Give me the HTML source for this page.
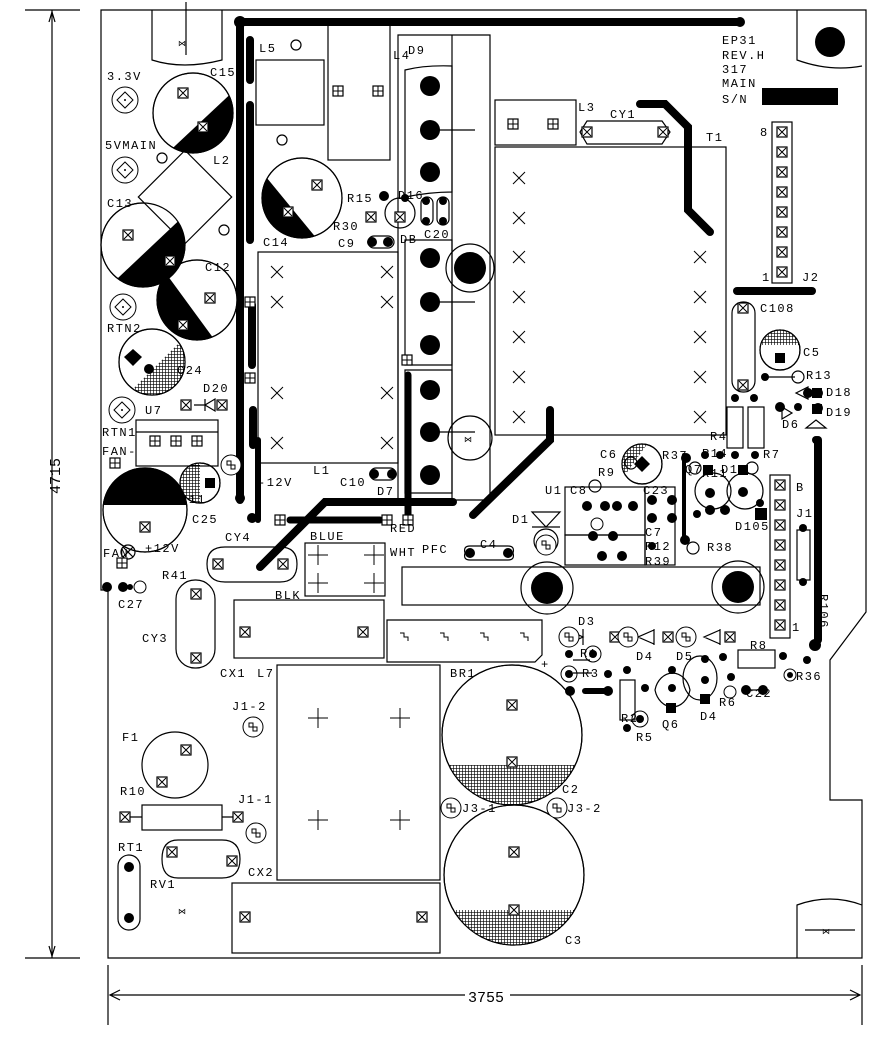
<!DOCTYPE html>
<html><head><meta charset="utf-8"><style>
html,body{margin:0;padding:0;background:#fff;}
svg{display:block}
text{font-family:"Liberation Mono","DejaVu Sans Mono",monospace;font-size:12px;fill:#000;letter-spacing:1.5px}
</style></head><body>
<svg width="882" height="1040" viewBox="0 0 882 1040" xmlns="http://www.w3.org/2000/svg">
<defs>
<g id="px"><rect x="-5" y="-5" width="10" height="10" fill="#fff" stroke="#000" stroke-width="1.2"/><path d="M-4 -4L4 4M4 -4L-4 4" stroke="#000" stroke-width="1"/></g>
<g id="pp"><rect x="-5" y="-5" width="10" height="10" fill="#fff" stroke="#000" stroke-width="1.2"/><path d="M0 -5V5M-5 0H5" stroke="#000" stroke-width="1"/></g>
<g id="xm"><path d="M-6 -6L6 6M6 -6L-6 6" stroke="#000" stroke-width="1"/></g>
<g id="pl"><path d="M-10 0H10M0 -10V10" stroke="#000" stroke-width="1"/></g>
<g id="hole"><circle r="10" fill="#000"/></g>
<g id="tgt"><circle r="13" fill="#fff" stroke="#000"/><path d="M0 -8L8 0 0 8-8 0Z" fill="none" stroke="#000"/><circle r="1" fill="#000"/></g>
<g id="so"><circle r="10" fill="#fff" stroke="#000"/><path d="M-4 -4h4v4h4v4h-4v-4h-4z" fill="none" stroke="#000"/></g>
<pattern id="hat" width="3" height="3" patternUnits="userSpaceOnUse"><rect width="3" height="3" fill="#fff"/><path d="M0 0H3M0 0V3" stroke="#000" stroke-width="1.3"/></pattern>
<clipPath id="k15"><circle cx="193" cy="113" r="40"/></clipPath>
<clipPath id="k13"><circle cx="143" cy="245" r="42"/></clipPath>
<clipPath id="k12"><circle cx="197" cy="300" r="40"/></clipPath>
<clipPath id="k14"><circle cx="302" cy="198" r="40"/></clipPath>
<clipPath id="k24"><circle cx="152" cy="362" r="33"/></clipPath>
<clipPath id="k11"><circle cx="145" cy="510" r="42"/></clipPath>
<clipPath id="k25"><circle cx="200" cy="483" r="20"/></clipPath>
<clipPath id="k2"><circle cx="512" cy="735" r="70"/></clipPath>
<clipPath id="k3"><circle cx="514" cy="875" r="70"/></clipPath>
<clipPath id="k5"><circle cx="780" cy="350" r="20"/></clipPath>
<clipPath id="k6"><circle cx="642" cy="464" r="20"/></clipPath>
</defs>
<g fill="none" stroke="#000" stroke-width="1.2">
<path d="M25 10H80M25 958H80M52 10V958"/>
<path d="M49 22L52 12 55 22M49 946L52 956 55 946"/>
<path d="M108 965V1025M862 965V1025M110 995H465M510 995H860M120 990L110 995 120 1000M850 990L860 995 850 1000"/>
<path d="M101 10H866V612L830 660V800H862V958H108V590H101Z"/>
<path d="M152 10V60Q183 70 222 60V10"/><path d="M186 2V55"/>
<path d="M797 10V60Q830 72 862 66"/>
<path d="M797 958V905Q830 893 862 905"/><path d="M805 930H855"/>
</g>
<text x="36" y="470" transform="rotate(-90 60 470)" style="font-size:15px;letter-spacing:0">4715</text>
<text x="468" y="1002" style="font-size:15px;letter-spacing:0">3755</text>
<text x="178" y="46" style="font-size:8px">⋈</text>
<text x="822" y="934" style="font-size:8px">⋈</text>
<circle cx="830" cy="42" r="15" fill="#000"/>

<g stroke="#000" stroke-width="8" stroke-linecap="round" fill="none">
<path d="M240 22H740"/><path d="M240 22V500"/>
<path d="M250 40V80M250 105V240"/>
<path d="M252 305V365M253 410V445"/>
<path d="M258 520V440" stroke-width="6"/>
<path d="M260 567L325 502H453"/>
<path d="M290 520H380" stroke-width="7"/>
<path d="M408 375V520" stroke-width="7"/>
<path d="M473 515L550 440V410"/>
<path d="M640 104H665L688 127V210L710 232"/>
<path d="M737 291H812"/>
<path d="M818 440V640"/>
<path d="M684 455V540" stroke-width="4"/>
<path d="M585 691H608" stroke-width="6"/>
</g>

<!-- caps -->
<g fill="#fff" stroke="#000" stroke-width="1.2">
<circle cx="193" cy="113" r="40"/>
<circle cx="143" cy="245" r="42"/>
<rect x="152" y="164" width="66" height="66" transform="rotate(45 185 197)"/>
<circle cx="197" cy="300" r="40"/>
<circle cx="152" cy="362" r="33"/>
<circle cx="145" cy="510" r="42"/>
<circle cx="200" cy="483" r="20"/>
<circle cx="302" cy="198" r="40"/>
<circle cx="512" cy="735" r="70"/><circle cx="514" cy="875" r="70"/>
<circle cx="780" cy="350" r="20"/><circle cx="642" cy="464" r="20"/>
</g>
<polygon points="160,160 240,85 240,170 160,170" fill="#000" clip-path="url(#k15)"/>
<polygon points="100,295 190,210 190,295" fill="#000" clip-path="url(#k13)"/>
<polygon points="150,268 162,268 222,350 150,350" fill="#000" clip-path="url(#k12)"/>
<polygon points="255,168 262,172 322,245 255,245" fill="#000" clip-path="url(#k14)"/>
<polygon points="192,330 122,400 192,400" fill="url(#hat)" clip-path="url(#k24)"/>
<rect x="100" y="460" width="90" height="45" fill="#000" clip-path="url(#k11)"/>
<rect x="178" y="460" width="22" height="50" fill="url(#hat)" clip-path="url(#k25)"/>
<rect x="440" y="765" width="150" height="50" fill="url(#hat)" clip-path="url(#k2)"/>
<rect x="440" y="910" width="150" height="40" fill="url(#hat)" clip-path="url(#k3)"/>
<rect x="758" y="328" width="44" height="17" fill="url(#hat)" clip-path="url(#k5)"/>
<polygon points="620,440 650,440 625,475 620,475" fill="url(#hat)" clip-path="url(#k6)"/>
<g fill="none" stroke="#000" stroke-width="1.2">
<circle cx="193" cy="113" r="40"/><circle cx="143" cy="245" r="42"/><circle cx="197" cy="300" r="40"/><circle cx="152" cy="362" r="33"/><circle cx="145" cy="510" r="42"/><circle cx="200" cy="483" r="20"/><circle cx="302" cy="198" r="40"/><circle cx="512" cy="735" r="70"/><circle cx="514" cy="875" r="70"/><circle cx="780" cy="350" r="20"/><circle cx="642" cy="464" r="20"/>
</g>
<rect x="205" y="478" width="10" height="10" fill="#000"/>
<path d="M133 349L142 357 133 366 124 357Z" fill="#000"/>
<circle cx="149" cy="369" r="5" fill="#000"/>
<use href="#px" x="183" y="93"/><use href="#px" x="203" y="127"/>
<use href="#px" x="128" y="235"/><use href="#px" x="170" y="261"/>
<use href="#px" x="210" y="298"/><use href="#px" x="183" y="325"/>
<use href="#px" x="145" y="527"/><use href="#px" x="317" y="185"/><use href="#px" x="288" y="212"/>
<use href="#tgt" x="125" y="100"/><use href="#tgt" x="125" y="170"/><use href="#tgt" x="123" y="307"/><use href="#tgt" x="122" y="410"/>
<g fill="none" stroke="#000" stroke-width="1.2">
<circle cx="162" cy="158" r="5"/><circle cx="224" cy="230" r="5"/><circle cx="282" cy="140" r="5"/><circle cx="296" cy="45" r="5"/>
<rect x="136" y="420" width="82" height="46"/><path d="M136 432H218"/>
<path d="M194 405H205M205 399V411M205 405L215 399V411Z"/>
<circle cx="128" cy="552" r="7"/><path d="M123 547L133 557M133 547L123 557"/>
</g>
<use href="#pp" x="155" y="441"/><use href="#pp" x="176" y="441"/><use href="#pp" x="197" y="441"/>
<use href="#px" x="186" y="405"/><use href="#px" x="222" y="405"/>
<use href="#pp" x="115" y="463"/><use href="#pp" x="122" y="563"/>
<use href="#so" x="231" y="465"/>

<!-- middle top -->
<g fill="none" stroke="#000" stroke-width="1.2">
<rect x="256" y="60" width="68" height="65"/>
<rect x="328" y="24" width="62" height="136"/>
<path d="M398 35H490V500H398Z M452 35V500"/>
<path d="M405 70Q425 65 452 66V192Q430 192 405 197Z"/>
<path d="M405 240H452V365H405Z M405 370H452V493H405Z"/>
<path d="M430 130H475M430 302H475M430 432H475"/>
<rect x="258" y="252" width="140" height="211"/>
<circle cx="470" cy="268" r="24"/>
<circle cx="470" cy="438" r="22"/>
<circle cx="400" cy="213" r="15"/>
<rect x="421" y="197" width="12" height="28" rx="6"/><rect x="437" y="197" width="12" height="28" rx="6"/>
<rect x="368" y="236" width="26" height="12" rx="6"/>
<rect x="370" y="468" width="26" height="12" rx="6"/>
<rect x="495" y="100" width="81" height="45"/>
<path d="M587 121H662L670 132 662 144H587L580 132Z"/>
<rect x="495" y="147" width="231" height="288"/>
<rect x="772" y="122" width="20" height="161"/>
<rect x="732" y="302" width="23" height="90" rx="11"/>
</g>
<use href="#pp" x="338" y="91"/><use href="#pp" x="378" y="91"/>
<use href="#hole" x="430" y="86"/><use href="#hole" x="430" y="130"/><use href="#hole" x="430" y="172"/>
<use href="#hole" x="430" y="258"/><use href="#hole" x="430" y="302"/><use href="#hole" x="430" y="345"/>
<use href="#hole" x="430" y="390"/><use href="#hole" x="430" y="432"/><use href="#hole" x="430" y="475"/>
<circle cx="470" cy="268" r="16" fill="#000"/>
<text x="464" y="442" style="font-size:8px">⋈</text>
<use href="#px" x="400" y="217"/><use href="#px" x="371" y="217"/>
<circle cx="384" cy="196" r="5" fill="#000"/><circle cx="405" cy="198" r="4" fill="#000"/>
<circle cx="426" cy="201" r="4" fill="#000"/><circle cx="426" cy="221" r="4" fill="#000"/><circle cx="443" cy="201" r="4" fill="#000"/><circle cx="443" cy="221" r="4" fill="#000"/>
<circle cx="372" cy="242" r="5" fill="#000"/><circle cx="388" cy="242" r="5" fill="#000"/>
<circle cx="374" cy="474" r="5" fill="#000"/><circle cx="392" cy="474" r="5" fill="#000"/>
<use href="#pp" x="407" y="360"/>
<use href="#pp" x="250" y="302"/><use href="#pp" x="250" y="378"/>
<use href="#xm" x="277" y="272"/><use href="#xm" x="387" y="272"/><use href="#xm" x="277" y="302"/><use href="#xm" x="387" y="302"/>
<use href="#xm" x="277" y="393"/><use href="#xm" x="387" y="393"/><use href="#xm" x="277" y="443"/><use href="#xm" x="387" y="443"/>
<use href="#pp" x="513" y="124"/><use href="#pp" x="553" y="124"/>
<use href="#px" x="587" y="132"/><use href="#px" x="663" y="132"/>
<g>
<use href="#xm" x="519" y="178"/><use href="#xm" x="519" y="218"/><use href="#xm" x="519" y="257"/><use href="#xm" x="519" y="297"/><use href="#xm" x="519" y="337"/><use href="#xm" x="519" y="377"/><use href="#xm" x="519" y="417"/>
<use href="#xm" x="700" y="257"/><use href="#xm" x="700" y="297"/><use href="#xm" x="700" y="337"/><use href="#xm" x="700" y="377"/><use href="#xm" x="700" y="417"/>
</g>
<use href="#px" x="782" y="132"/><use href="#px" x="782" y="152"/><use href="#px" x="782" y="172"/><use href="#px" x="782" y="192"/><use href="#px" x="782" y="212"/><use href="#px" x="782" y="232"/><use href="#px" x="782" y="252"/><use href="#px" x="782" y="272"/>
<use href="#px" x="743" y="308"/><use href="#px" x="743" y="385"/>
<rect x="775" y="353" width="10" height="10" fill="#000"/>
<rect x="762" y="88" width="76" height="17" fill="#000"/>
<circle cx="240" cy="22" r="6" fill="#000"/><circle cx="740" cy="22" r="5" fill="#000"/>
<circle cx="240" cy="498" r="5" fill="#000"/><circle cx="252" cy="518" r="5" fill="#000"/>

<!-- right small parts -->
<g fill="none" stroke="#000" stroke-width="1.2">
<rect x="727" y="407" width="16" height="41"/><rect x="748" y="407" width="16" height="41"/>
<path d="M765 377H795"/><circle cx="798" cy="377" r="6"/>
<path d="M796 393L808 387V399Z M792 413L782 407V419Z M806 428H826L816 420Z"/>
<rect x="770" y="475" width="20" height="163"/>
<rect x="797" y="530" width="13" height="50"/>
<circle cx="713" cy="491" r="18"/><circle cx="745" cy="491" r="18"/>
<circle cx="695" cy="468" r="6"/><circle cx="752" cy="468" r="6"/><circle cx="693" cy="548" r="6"/><circle cx="631" cy="463" r="6"/><circle cx="595" cy="486" r="6"/>
<rect x="565" y="487" width="80" height="48"/><rect x="565" y="535" width="80" height="30"/>
<rect x="645" y="487" width="30" height="78"/>
<rect x="402" y="567" width="358" height="38"/>
<circle cx="547" cy="588" r="26"/><circle cx="738" cy="587" r="26"/>
<path d="M465 553Q463 546 470 546H508Q515 546 513 553Q515 560 508 560H470Q463 560 465 553Z"/>
<circle cx="546" cy="541" r="12"/>
<path d="M532 512H560L546 527Z M532 527H560"/>
<path d="M207 564Q207 547 225 547H280Q297 547 297 564Q297 582 280 582H225Q207 582 207 564Z"/>
<rect x="305" y="543" width="80" height="53"/>
<rect x="176" y="580" width="39" height="88" rx="19"/>
<rect x="234" y="600" width="150" height="58"/>
<path d="M387 620H542V655L535 662H387Z"/>
<rect x="277" y="665" width="163" height="215"/>
<circle cx="175" cy="765" r="33"/>
<rect x="142" y="805" width="80" height="25"/><path d="M130 817H142M222 817H233"/>
<rect x="118" y="855" width="22" height="75" rx="11"/>
<path d="M178 840H222Q240 840 240 859Q240 878 222 878H178Q162 878 162 859Q162 840 178 840Z"/>
<rect x="232" y="883" width="208" height="70"/>
<path d="M583 637L568 630V644Z M583 629V645M638 637L654 630V644Z M654 629V645M704 637L720 630V644Z M720 629V645"/>
<path d="M655 690A18 22 0 0 1 690 690A18 22 0 0 1 655 690Z"/>
<ellipse cx="700" cy="678" rx="17" ry="22"/>
<rect x="620" y="680" width="15" height="40"/>
<rect x="738" y="650" width="37" height="18"/>
<path d="M744 690H760"/>
<path d="M573 660H590M573 673H592"/>
</g>
<use href="#px" x="512" y="705"/><use href="#px" x="512" y="762"/><use href="#px" x="514" y="852"/><use href="#px" x="514" y="910"/>
<path d="M642 456L650 464 642 472 634 464Z" fill="#000"/>
<circle cx="547" cy="588" r="16" fill="#000"/><circle cx="738" cy="587" r="16" fill="#000"/>
<g fill="#000">
<circle cx="587" cy="506" r="5"/><circle cx="605" cy="506" r="5"/><circle cx="617" cy="506" r="5"/><circle cx="633" cy="506" r="5"/>
<circle cx="593" cy="536" r="5"/><circle cx="613" cy="536" r="5"/><circle cx="602" cy="556" r="5"/><circle cx="622" cy="556" r="5"/>
<circle cx="652" cy="500" r="5"/><circle cx="672" cy="500" r="5"/><circle cx="652" cy="518" r="5"/><circle cx="672" cy="518" r="5"/><circle cx="652" cy="546" r="4"/>
<circle cx="686" cy="458" r="5"/><circle cx="685" cy="540" r="5"/>
<circle cx="710" cy="493" r="5"/><circle cx="743" cy="492" r="5"/><circle cx="710" cy="510" r="5"/><circle cx="725" cy="510" r="5"/>
<circle cx="697" cy="514" r="4"/><circle cx="760" cy="503" r="4"/>
<rect x="703" y="465" width="10" height="10"/><rect x="738" y="465" width="10" height="10"/><rect x="755" y="508" width="12" height="12"/>
<circle cx="705" cy="455" r="4"/><circle cx="720" cy="455" r="4"/><circle cx="735" cy="455" r="4"/><circle cx="755" cy="455" r="4"/>
<circle cx="735" cy="398" r="4"/><circle cx="754" cy="398" r="4"/>
<circle cx="765" cy="377" r="4"/><circle cx="808" cy="393" r="5"/><circle cx="780" cy="407" r="5"/><circle cx="798" cy="407" r="4"/><circle cx="818" cy="393" r="5"/><circle cx="818" cy="408" r="5"/><circle cx="816" cy="440" r="4"/><circle cx="815" cy="645" r="6"/>
<rect x="812" y="388" width="10" height="10"/><rect x="812" y="404" width="10" height="10"/>
<circle cx="803" cy="528" r="4"/><circle cx="803" cy="582" r="4"/>
<circle cx="569" cy="654" r="4"/><circle cx="608" cy="674" r="4"/><circle cx="570" cy="691" r="5"/><circle cx="608" cy="691" r="5"/>
<circle cx="627" cy="670" r="4"/><circle cx="627" cy="728" r="4"/><circle cx="645" cy="688" r="4"/>
<circle cx="672" cy="670" r="4"/><circle cx="672" cy="688" r="4"/><rect x="666" y="703" width="10" height="10"/>
<circle cx="705" cy="659" r="4"/><circle cx="705" cy="680" r="4"/><rect x="700" y="694" width="10" height="10"/>
<circle cx="723" cy="657" r="4"/><circle cx="731" cy="677" r="4"/>
<circle cx="746" cy="690" r="5"/><circle cx="763" cy="690" r="5"/><circle cx="783" cy="656" r="4"/><circle cx="807" cy="660" r="4"/>
<circle cx="470" cy="553" r="5"/><circle cx="508" cy="553" r="5"/>
<circle cx="107" cy="587" r="5"/><circle cx="123" cy="587" r="5"/><circle cx="130" cy="587" r="3"/>
</g>
<g fill="none" stroke="#000"><circle cx="569" cy="674" r="8"/><circle cx="593" cy="654" r="8"/><circle cx="640" cy="719" r="8"/><circle cx="790" cy="675" r="6"/><circle cx="730" cy="692" r="6"/><circle cx="597" cy="524" r="6"/><circle cx="140" cy="587" r="6"/></g>
<circle cx="593" cy="654" r="4" fill="#000"/><circle cx="569" cy="674" r="4" fill="#000"/><circle cx="640" cy="719" r="4" fill="#000"/><circle cx="790" cy="675" r="3" fill="#000"/>
<use href="#px" x="780" y="485"/><use href="#px" x="780" y="505"/><use href="#px" x="780" y="525"/><use href="#px" x="780" y="545"/><use href="#px" x="780" y="565"/><use href="#px" x="780" y="585"/><use href="#px" x="780" y="605"/><use href="#px" x="780" y="625"/>
<use href="#so" x="569" y="637"/><use href="#px" x="615" y="637"/><use href="#so" x="628" y="637"/><use href="#px" x="668" y="637"/><use href="#so" x="686" y="637"/><use href="#px" x="730" y="637"/>
<use href="#so" x="546" y="545"/>
<use href="#px" x="218" y="564"/><use href="#px" x="283" y="564"/>
<use href="#pl" x="318" y="555"/><use href="#pl" x="374" y="555"/><use href="#pl" x="318" y="583"/><use href="#pl" x="374" y="583"/>
<use href="#pp" x="280" y="520"/><use href="#pp" x="387" y="520"/><use href="#pp" x="408" y="520"/>
<use href="#px" x="196" y="594"/><use href="#px" x="196" y="658"/>
<use href="#px" x="245" y="632"/><use href="#px" x="363" y="632"/>
<g stroke="#000" fill="none"><path d="M400 633h4v4h4v4M440 633h4v4h4v4M480 633h4v4h4v4M520 633h4v4h4v4"/></g>
<use href="#pl" x="318" y="718"/><use href="#pl" x="400" y="718"/><use href="#pl" x="318" y="820"/><use href="#pl" x="400" y="820"/>
<use href="#so" x="253" y="727"/><use href="#so" x="256" y="833"/><use href="#so" x="451" y="808"/><use href="#so" x="557" y="808"/>
<use href="#px" x="186" y="750"/><use href="#px" x="162" y="782"/>
<use href="#px" x="125" y="817"/><use href="#px" x="238" y="817"/>
<circle cx="129" cy="867" r="5" fill="#000"/><circle cx="129" cy="918" r="5" fill="#000"/>
<use href="#px" x="172" y="852"/><use href="#px" x="232" y="861"/>
<use href="#px" x="245" y="917"/><use href="#px" x="422" y="917"/>
<text x="178" y="914" style="font-size:8px">⋈</text>

<g>
<text x="107" y="80">3.3V</text><text x="210" y="76">C15</text>
<text x="105" y="149">5VMAIN</text><text x="213" y="164">L2</text>
<text x="107" y="207">C13</text><text x="205" y="271">C12</text>
<text x="107" y="332">RTN2</text><text x="177" y="374">C24</text>
<text x="203" y="392">D20</text><text x="145" y="414">U7</text>
<text x="102" y="436">RTN1</text><text x="102" y="455">FAN-</text>
<text x="180" y="503">C11</text><text x="192" y="523">C25</text>
<text x="145" y="552">+12V</text><text x="103" y="557">FAN</text>
<text x="162" y="579">R41</text><text x="118" y="608">C27</text>
<text x="225" y="541">CY4</text><text x="310" y="540">BLUE</text><text x="275" y="599">BLK</text>
<text x="390" y="532">RED</text><text x="390" y="556">WHT</text><text x="422" y="553">PFC</text>
<text x="142" y="642">CY3</text><text x="220" y="677">CX1</text><text x="257" y="677">L7</text>
<text x="232" y="710">J1-2</text><text x="122" y="741">F1</text><text x="120" y="795">R10</text>
<text x="238" y="803">J1-1</text><text x="118" y="851">RT1</text><text x="150" y="888">RV1</text>
<text x="248" y="876">CX2</text><text x="450" y="677">BR1</text><text x="541" y="668">+</text>
<text x="562" y="793">C2</text><text x="462" y="812">J3-1</text><text x="567" y="812">J3-2</text>
<text x="565" y="944">C3</text>
<text x="259" y="52">L5</text><text x="393" y="59">L4</text><text x="408" y="54">D9</text>
<text x="347" y="202">R15</text><text x="398" y="199">D16</text><text x="333" y="230">R30</text>
<text x="400" y="243">DB</text><text x="424" y="238">C20</text><text x="338" y="247">C9</text>
<text x="263" y="246">C14</text><text x="313" y="474">L1</text><text x="258" y="486">-12V</text>
<text x="340" y="486">C10</text><text x="377" y="495">D7</text>
<text x="578" y="111">L3</text><text x="610" y="118">CY1</text><text x="706" y="141">T1</text>
<text x="722" y="44">EP31</text><text x="722" y="59">REV.H</text><text x="722" y="73">317</text><text x="722" y="87">MAIN</text><text x="722" y="103">S/N</text>
<text x="760" y="136">8</text><text x="762" y="281">1</text><text x="802" y="281">J2</text>
<text x="760" y="312">C108</text><text x="803" y="356">C5</text>
<text x="806" y="379">R13</text><text x="826" y="396">D18</text><text x="826" y="416">D19</text><text x="782" y="428">D6</text>
<text x="710" y="440">R4</text><text x="702" y="457">R14</text><text x="763" y="458">R7</text>
<text x="702" y="477">R11</text><text x="796" y="491">B</text><text x="796" y="517">J1</text>
<text x="600" y="458">C6</text><text x="662" y="459">R37</text><text x="598" y="476">R9</text>
<text x="685" y="473">Q7</text><text x="721" y="473">D1</text>
<text x="545" y="494">U1</text><text x="570" y="494">C8</text><text x="643" y="494">C23</text>
<text x="735" y="530">D105</text><text x="512" y="523">D1</text>
<text x="645" y="536">C7</text><text x="645" y="550">R12</text><text x="645" y="565">R39</text><text x="707" y="551">R38</text>
<text x="480" y="548">C4</text>
<text x="578" y="625">D3</text><text x="580" y="657">R1</text><text x="582" y="677">R3</text>
<text x="636" y="660">D4</text><text x="676" y="660">D5</text><text x="750" y="649">R8</text>
<text x="796" y="680">R36</text><text x="746" y="697">C22</text><text x="719" y="706">R6</text>
<text x="700" y="720">D4</text><text x="662" y="728">Q6</text><text x="621" y="722">R2</text><text x="636" y="741">R5</text>
<text x="792" y="631">1</text>
<text x="802" y="588" transform="rotate(90 808 600)">R106</text>
</g>
</svg>
</body></html>
